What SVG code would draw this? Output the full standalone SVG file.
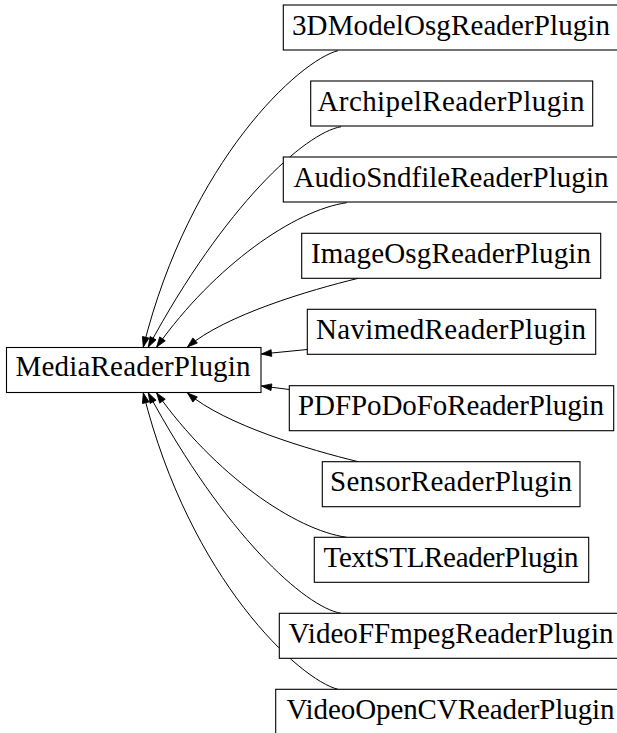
<svg xmlns="http://www.w3.org/2000/svg" width="617" height="733" viewBox="0 0 617 733">
<defs>
<marker id="arr" markerUnits="userSpaceOnUse" markerWidth="12" markerHeight="10" viewBox="0 0 12 10" refX="11" refY="5" orient="auto">
<path d="M1,1.6 L11,5 L1,8.4 Z" fill="#000" stroke="#000" stroke-width="0.8"/>
</marker>
</defs>
<style>
.box{fill:#fff;stroke:#000;stroke-width:1.1}
.lbl{font-family:"Liberation Serif","Times New Roman",serif;font-size:29px;fill:#000;text-anchor:middle}
.edge{fill:none;stroke:#000;stroke-width:1;marker-end:url(#arr)}
</style>
<rect width="617" height="733" fill="#fff"/>
<g id="connectors">
<path class="edge" d="M338,50.7 C300,60 190,160 143.3,347"/>
<path class="edge" d="M341,126.7 C305,133 225,205 148.3,347"/>
<path class="edge" d="M346.7,202.7 C295,210 215,265 156.7,347"/>
<path class="edge" d="M358.3,278.3 C310,290 225,315 187.5,347"/>
<path class="edge" d="M307.3,349.5 L261.5,354"/>
<path class="edge" d="M289.3,389.5 L261.5,386"/>
<path class="edge" d="M358.3,461.7 C310,450 225,425 187.5,393"/>
<path class="edge" d="M346.7,537.3 C295,530 215,475 156.7,393"/>
<path class="edge" d="M341,613.3 C305,607 225,535 148.3,393"/>
<path class="edge" d="M338,689.3 C300,680 190,580 143.3,393"/>
</g>
<g id="MediaReaderPlugin">
<rect class="box" x="6.5" y="347.5" width="254.5" height="45"/>
<text class="lbl" x="133" y="376" textLength="235">MediaReaderPlugin</text>
</g>
<g id="3DModelOsgReaderPlugin">
<rect class="box" x="283.3" y="5" width="336.4" height="45"/>
<text class="lbl" x="451" y="34.7" textLength="318">3DModelOsgReaderPlugin</text>
</g>
<g id="ArchipelReaderPlugin">
<rect class="box" x="310.7" y="81" width="282" height="45"/>
<text class="lbl" x="451" y="110.5" textLength="267">ArchipelReaderPlugin</text>
</g>
<g id="AudioSndfileReaderPlugin">
<rect class="box" x="283.3" y="157" width="336.4" height="45"/>
<text class="lbl" x="451" y="186.5" textLength="315">AudioSndfileReaderPlugin</text>
</g>
<g id="ImageOsgReaderPlugin">
<rect class="box" x="301.7" y="233.3" width="299" height="45"/>
<text class="lbl" x="451" y="262.8" textLength="280">ImageOsgReaderPlugin</text>
</g>
<g id="NavimedReaderPlugin">
<rect class="box" x="307.3" y="309.3" width="288.4" height="45"/>
<text class="lbl" x="451" y="338.8" textLength="270">NavimedReaderPlugin</text>
</g>
<g id="PDFPoDoFoReaderPlugin">
<rect class="box" x="289.3" y="385.7" width="324.4" height="45"/>
<text class="lbl" x="451" y="415.2" textLength="306">PDFPoDoFoReaderPlugin</text>
</g>
<g id="SensorReaderPlugin">
<rect class="box" x="322.3" y="461.7" width="257.7" height="45"/>
<text class="lbl" x="451" y="491.2" textLength="242">SensorReaderPlugin</text>
</g>
<g id="TextSTLReaderPlugin">
<rect class="box" x="314.3" y="537.3" width="274.4" height="45"/>
<text class="lbl" x="451" y="566.8" textLength="255">TextSTLReaderPlugin</text>
</g>
<g id="VideoFFmpegReaderPlugin">
<rect class="box" x="279.3" y="613.3" width="344.4" height="45"/>
<text class="lbl" x="451" y="642.8" textLength="325">VideoFFmpegReaderPlugin</text>
</g>
<g id="VideoOpenCVReaderPlugin">
<rect class="box" x="275.7" y="689.3" width="351.6" height="45"/>
<text class="lbl" x="450.5" y="718.8" textLength="328">VideoOpenCVReaderPlugin</text>
</g>
</svg>
